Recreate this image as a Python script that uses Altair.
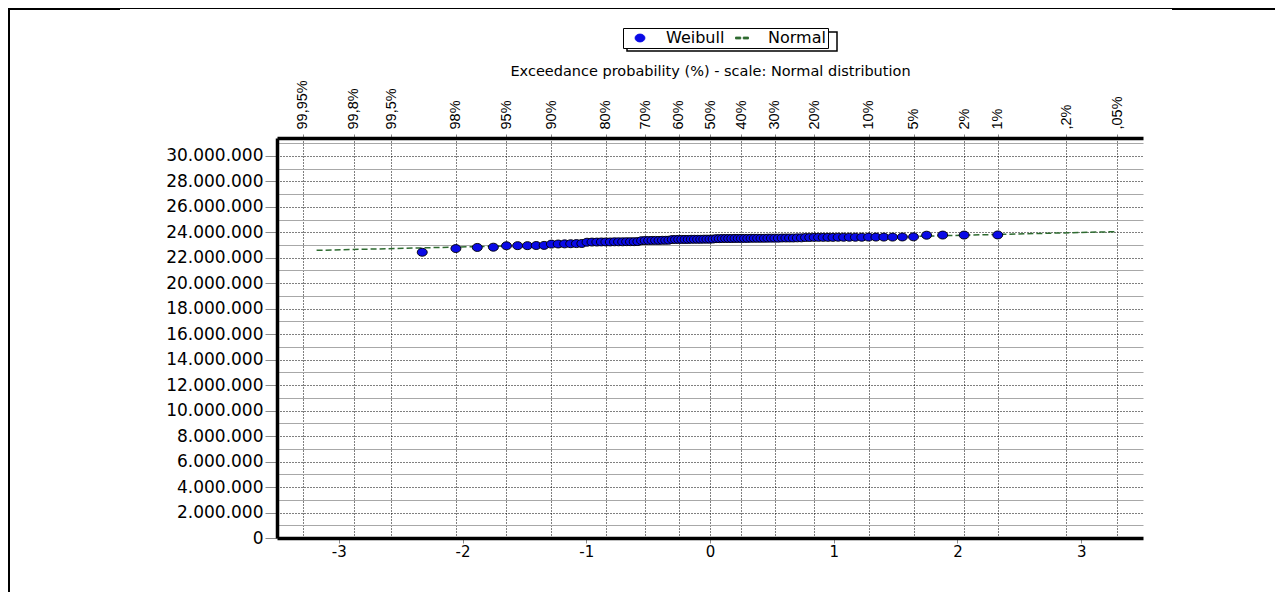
import json
import altair as alt
import pandas as pd

# ---------------- data ----------------
# Weibull plotting positions (standard normal quantiles of i/100, i = 1..99)
weibull_z = [
    -2.326, -2.054, -1.881, -1.751, -1.645, -1.555, -1.476, -1.405, -1.341, -1.282,
    -1.227, -1.175, -1.126, -1.080, -1.036, -0.994, -0.954, -0.915, -0.878, -0.842,
    -0.806, -0.772, -0.739, -0.706, -0.674, -0.643, -0.613, -0.583, -0.553, -0.524,
    -0.496, -0.468, -0.440, -0.412, -0.385, -0.358, -0.332, -0.305, -0.279, -0.253,
    -0.228, -0.202, -0.176, -0.151, -0.126, -0.100, -0.075, -0.050, -0.025, 0.000,
    0.025, 0.050, 0.075, 0.100, 0.126, 0.151, 0.176, 0.202, 0.228, 0.253,
    0.279, 0.305, 0.332, 0.358, 0.385, 0.412, 0.440, 0.468, 0.496, 0.524,
    0.553, 0.583, 0.613, 0.643, 0.674, 0.706, 0.739, 0.772, 0.806, 0.842,
    0.878, 0.915, 0.954, 0.994, 1.036, 1.080, 1.126, 1.175, 1.227, 1.282,
    1.341, 1.405, 1.476, 1.555, 1.645, 1.751, 1.881, 2.054, 2.326,
]
# observed values, in millions
weibull_value_m = [
    22.43, 22.72, 22.81, 22.83, 22.94, 22.95, 22.95, 22.96, 22.97,
    23.07, 23.08, 23.09, 23.10, 23.11, 23.12,
    23.22, 23.23, 23.23, 23.24, 23.24, 23.24, 23.25, 23.25, 23.25, 23.26, 23.26, 23.26, 23.27,
    23.34, 23.35, 23.35, 23.36, 23.36, 23.36, 23.37, 23.37, 23.38,
    23.43, 23.43, 23.44, 23.44, 23.44, 23.44, 23.45, 23.45, 23.45, 23.45, 23.46, 23.46, 23.46, 23.47,
    23.50, 23.50, 23.51, 23.51, 23.51, 23.51, 23.52, 23.52, 23.52, 23.52, 23.52,
    23.53, 23.53, 23.53, 23.53, 23.53, 23.54, 23.54, 23.54, 23.54,
    23.55, 23.55, 23.55, 23.55, 23.56, 23.56,
    23.59, 23.59, 23.60, 23.60, 23.60, 23.60, 23.60, 23.61, 23.61, 23.61, 23.61, 23.61,
    23.62, 23.62, 23.62, 23.62,
    23.63, 23.64,
    23.77, 23.78, 23.78, 23.79,
]
# fitted Normal distribution line (end points), in millions
normal_z = [-3.18, 3.29]
normal_value_m = [22.58, 24.05]

# top axis: exceedance probabilities
top_z = [-3.291, -2.878, -2.576, -2.054, -1.645, -1.282, -0.842, -0.524, -0.253, 0.0,
         0.253, 0.524, 0.842, 1.282, 1.645, 2.054, 2.326, 2.878, 3.291]
top_labels = ["99,95%", "99,8%", "99,5%", "98%", "95%", "90%", "80%", "70%", "60%", "50%",
              "40%", "30%", "20%", "10%", "5%", "2%", "1%", ",2%", ",05%"]
bottom_ticks = [-3, -2, -1, 0, 1, 2, 3]
y_ticks_m = list(range(0, 32))

series_names = ["Weibull", "Normal"]
series_colors = ["#0a0ae6", "#2e6b30"]
ellipse_path = "M-1,0A1,0.8,0,1,0,1,0A1,0.8,0,1,0,-1,0Z"
dash_path = "M-1.3,-0.2H-0.25V0.2H-1.3Z M0.25,-0.2H1.3V0.2H0.25Z"

pts = pd.DataFrame({"z": weibull_z, "value": weibull_value_m, "series": "Weibull"})
nrm = pd.DataFrame({"z": normal_z, "value": normal_value_m, "series": "Normal"})

FONT = "DejaVu Sans"
W, H = 866, 400
PAD_L, PAD_T = 269, 130

x_scale = alt.Scale(domain=[-3.5, 3.5], nice=False, zero=False)
y_scale = alt.Scale(domain=[0, 31.4], nice=False, zero=False)
col_scale = alt.Scale(domain=series_names, range=series_colors)
shape_scale = alt.Scale(domain=series_names, range=[ellipse_path, dash_path])

major = "datum.value % 2 === 0"
y_axis = alt.Axis(
    values=y_ticks_m, title=None,
    labelExpr=f"{major} ? replace(format(datum.value * 1000000, ',d'), /,/g, '.') : ''",
    labelFont=FONT, labelFontSize=17, labelColor="black", labelPadding=2,
    labelFlush=False, labelOverlap=False,
    domainColor="black", domainWidth=3.5,
    tickSize=12,
    tickColor={"condition": {"test": major, "value": "#8a8a8a"}, "value": "transparent"},
    grid=True, gridWidth=1,
    gridColor={"condition": {"test": major, "value": "black"}, "value": "#a8a8a8"},
    gridDash={"condition": {"test": major, "value": [1, 2]}, "value": []},
)

x_bottom = alt.Axis(
    orient="bottom", values=bottom_ticks, title=None, labelExpr="datum.value + ''",
    labelFont=FONT, labelFontSize=15, labelColor="black", labelPadding=1,
    labelFlush=False, labelOverlap=False,
    tickColor="#8a8a8a", tickSize=5, domainColor="black", domainWidth=3.5, grid=False,
)

x_top = alt.Axis(
    orient="top", values=top_z,
    labelExpr=f"{json.dumps(top_labels)}[indexof({json.dumps(top_z)}, datum.value)]",
    labelAngle=270, labelAlign="left", labelBaseline="middle",
    labelFont="Liberation Sans", labelFontSize=14.5,
    labelColor="black", labelPadding=5,
    labelFlush=False, labelOverlap=False,
    tickColor="#8a8a8a", tickSize=4, domainColor="black", domainWidth=3.5,
    grid=True, gridColor="black", gridDash=[1, 2], gridWidth=1,
    title="Exceedance probability (%) - scale: Normal distribution",
    titleFont=FONT, titleFontSize=14.5, titleFontWeight="normal", titleColor="black",
    titlePadding=1,
)

LEG_X, LEG_Y = 346, -110
legend = alt.Legend(
    title=None, orient="none", legendX=LEG_X, legendY=LEG_Y, direction="horizontal",
    strokeColor="black", fillColor="white", padding=2, cornerRadius=0,
    labelFont=FONT, labelFontSize=16, labelColor="black",
    symbolSize=100, symbolOffset=7, labelOffset=18, columnPadding=2,
    symbolStrokeWidth=0.8,
)

one = alt.Data(values=[{}])

# document frame (decoration)
frame_top = alt.Chart(one).mark_rule(color="black", strokeWidth=1).encode(
    x=alt.value(-PAD_L), x2=alt.value(W + 132), y=alt.value(-PAD_T + 0.5))
frame_top_l = alt.Chart(one).mark_rule(color="black", strokeWidth=2).encode(
    x=alt.value(-PAD_L), x2=alt.value(120 - 8 - PAD_L), y=alt.value(-PAD_T + 1))
frame_top_r = alt.Chart(one).mark_rule(color="black", strokeWidth=2).encode(
    x=alt.value(1172 - 8 - PAD_L), x2=alt.value(W + 132), y=alt.value(-PAD_T + 1))
frame_left = alt.Chart(one).mark_rule(color="black", strokeWidth=2).encode(
    x=alt.value(-PAD_L + 1), y=alt.value(-PAD_T), y2=alt.value(H + 60))

# legend shadow (decoration)
shadow = alt.Chart(one).mark_rect(fill="white", stroke="black", strokeWidth=1.5).encode(
    x=alt.value(LEG_X + 4), x2=alt.value(LEG_X + 214), y=alt.value(LEG_Y + 4),
    y2=alt.value(LEG_Y + 23))

line = alt.Chart(nrm).mark_line(strokeDash=[6, 3], strokeWidth=1.5).encode(
    x=alt.X("z:Q", scale=x_scale, axis=x_top),
    y=alt.Y("value:Q", scale=y_scale, axis=y_axis),
    color=alt.Color("series:N", scale=col_scale, legend=legend),
)

points = alt.Chart(pts).mark_point(filled=True, stroke="black", strokeWidth=0.9,
                                   size=100, opacity=1).encode(
    x=alt.X("z:Q", scale=x_scale, axis=x_bottom),
    y=alt.Y("value:Q", scale=y_scale, axis=y_axis),
    color=alt.Color("series:N", scale=col_scale, legend=legend),
    shape=alt.Shape("series:N", scale=shape_scale, legend=legend),
)

chart = alt.layer(
    frame_top, frame_top_l, frame_top_r, frame_left, shadow, line, points
).resolve_axis(x="independent").properties(
    width=W, height=H,
    autosize=alt.AutoSizeParams(type="none"),
    padding={"left": PAD_L, "top": PAD_T, "right": 132, "bottom": 54},
    background="white",
).configure_view(stroke=None)

chart.save("out.html", embed_options={"renderer": "svg", "actions": False})
